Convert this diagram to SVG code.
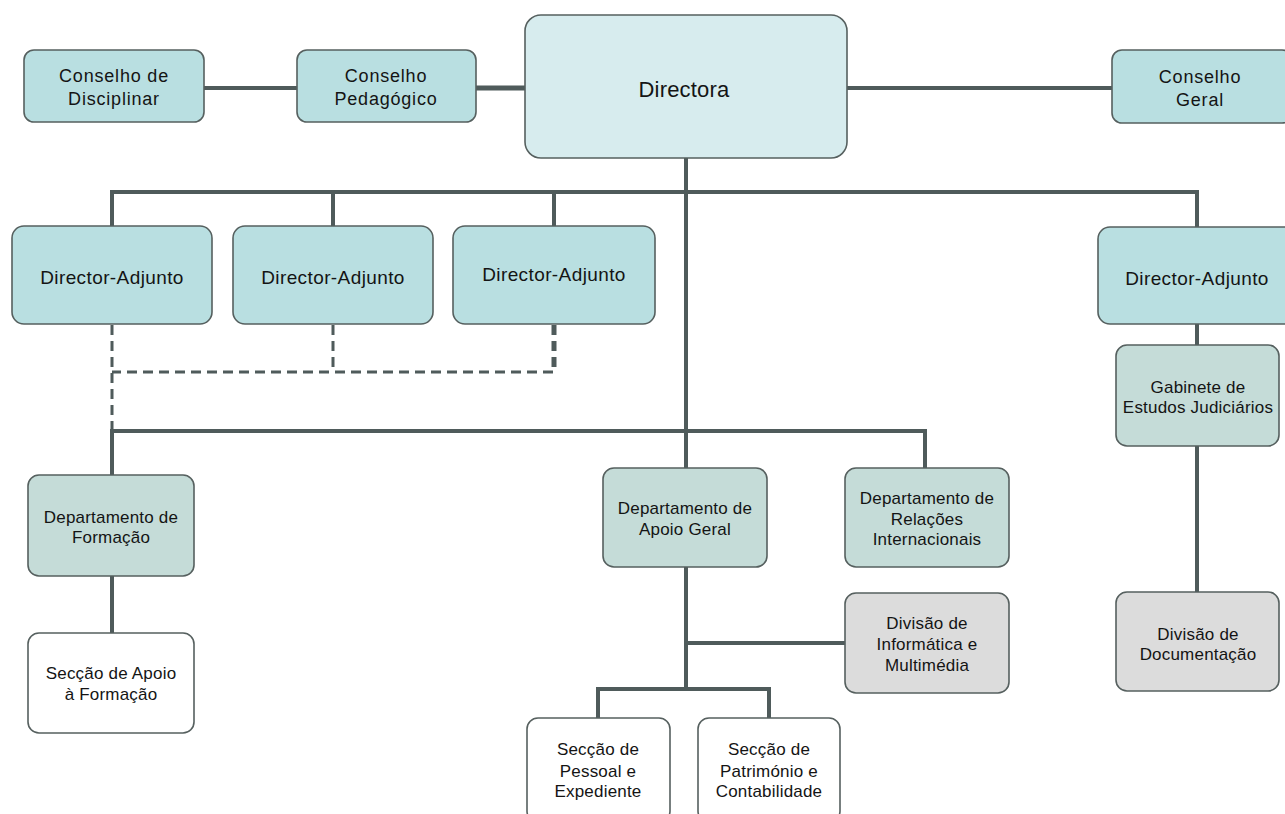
<svg xmlns="http://www.w3.org/2000/svg" width="1285" height="814" viewBox="0 0 1285 814">
<defs>
<style>
.box{stroke:#56605f;stroke-width:1.6}
.c1{fill:#b9dfe1}
.c0{fill:#d7ecee}
.c2{fill:#c5dcd8}
.c3{fill:#dcdcdc}
.c4{fill:#ffffff}
.ln{stroke:#4f5b5b;stroke-width:4;fill:none;stroke-linecap:square}
.ds{stroke:#4f5b5b;stroke-width:3;fill:none;stroke-dasharray:10 6}
text{font-family:"Liberation Sans",Arial,Helvetica,sans-serif;fill:#141414;text-anchor:middle}
.t18{font-size:18px;letter-spacing:0.8px}
.t19{font-size:19px;letter-spacing:0.4px}
.t22{font-size:22px;letter-spacing:0.2px}
.t17{font-size:17px;letter-spacing:0.2px}
</style>
</defs>
<rect width="1285" height="814" fill="#ffffff"/>
<g id="connectors">
<line class="ln" x1="204" y1="88" x2="297" y2="88"/>
<line class="ln" x1="476" y1="88" x2="525" y2="88" style="stroke-width:5"/>
<line class="ln" x1="847" y1="88" x2="1112" y2="88"/>
<line class="ln" x1="686" y1="158" x2="686" y2="468"/>
<line class="ln" x1="112" y1="192" x2="1197" y2="192"/>
<line class="ln" x1="112" y1="192" x2="112" y2="226"/>
<line class="ln" x1="333" y1="192" x2="333" y2="226"/>
<line class="ln" x1="554" y1="192" x2="554" y2="226"/>
<line class="ln" x1="1197" y1="192" x2="1197" y2="227"/>
<path class="ds" d="M112 325 V431"/>
<path class="ds" d="M333 325 V372"/>
<path class="ds" d="M554 325 V372 H112" style="stroke-width:3"/>
<path class="ds" d="M554 325 V372" style="stroke-width:5"/>
<line class="ln" x1="112" y1="431" x2="925" y2="431"/>
<line class="ln" x1="112" y1="431" x2="112" y2="475"/>
<line class="ln" x1="925" y1="431" x2="925" y2="468"/>
<line class="ln" x1="112" y1="576" x2="112" y2="633"/>
<line class="ln" x1="686" y1="567" x2="686" y2="689"/>
<line class="ln" x1="686" y1="643" x2="845" y2="643"/>
<line class="ln" x1="598" y1="689" x2="769" y2="689"/>
<line class="ln" x1="598" y1="689" x2="598" y2="718"/>
<line class="ln" x1="769" y1="689" x2="769" y2="718"/>
<line class="ln" x1="1197" y1="324" x2="1197" y2="345"/>
<line class="ln" x1="1197" y1="446" x2="1197" y2="592"/>
</g>
<g id="conselho-disciplinar">
<rect class="box c1" x="24" y="50" width="180" height="72" rx="10"/>
<text class="t18" x="114" y="82">Conselho de</text>
<text class="t18" x="114" y="105">Disciplinar</text>
</g>
<g id="conselho-pedagogico">
<rect class="box c1" x="297" y="50" width="179" height="72" rx="10"/>
<text class="t18" x="386" y="82">Conselho</text>
<text class="t18" x="386" y="105">Pedagógico</text>
</g>
<g id="directora">
<rect class="box c0" x="525" y="15" width="322" height="143" rx="16"/>
<text class="t22" x="684" y="97">Directora</text>
</g>
<g id="conselho-geral">
<rect class="box c1" x="1112" y="50" width="180" height="73" rx="10"/>
<text class="t18" x="1200" y="83">Conselho</text>
<text class="t18" x="1200" y="106">Geral</text>
</g>
<g id="director-adjunto-1">
<rect class="box c1" x="12" y="226" width="200" height="98" rx="12"/>
<text class="t19" x="112" y="284">Director-Adjunto</text>
</g>
<g id="director-adjunto-2">
<rect class="box c1" x="233" y="226" width="200" height="98" rx="12"/>
<text class="t19" x="333" y="284">Director-Adjunto</text>
</g>
<g id="director-adjunto-3">
<rect class="box c1" x="453" y="226" width="202" height="98" rx="12"/>
<text class="t19" x="554" y="281">Director-Adjunto</text>
</g>
<g id="director-adjunto-4">
<rect class="box c1" x="1098" y="227" width="200" height="97" rx="12"/>
<text class="t19" x="1197" y="285">Director-Adjunto</text>
</g>
<g id="gabinete-estudos">
<rect class="box c2" x="1116" y="345" width="163" height="101" rx="11"/>
<text class="t17" x="1198" y="393">Gabinete de</text>
<text class="t17" x="1198" y="413">Estudos Judiciários</text>
</g>
<g id="divisao-documentacao">
<rect class="box c3" x="1116" y="592" width="163" height="99" rx="11"/>
<text class="t17" x="1198" y="640">Divisão de</text>
<text class="t17" x="1198" y="660">Documentação</text>
</g>
<g id="departamento-formacao">
<rect class="box c2" x="28" y="475" width="166" height="101" rx="11"/>
<text class="t17" x="111" y="523">Departamento de</text>
<text class="t17" x="111" y="543">Formação</text>
</g>
<g id="seccao-apoio-formacao">
<rect class="box c4" x="28" y="633" width="166" height="100" rx="11"/>
<text class="t17" x="111" y="679">Secção de Apoio</text>
<text class="t17" x="111" y="700">à Formação</text>
</g>
<g id="departamento-apoio-geral">
<rect class="box c2" x="603" y="468" width="164" height="99" rx="11"/>
<text class="t17" x="685" y="514">Departamento de</text>
<text class="t17" x="685" y="535">Apoio Geral</text>
</g>
<g id="departamento-relacoes">
<rect class="box c2" x="845" y="468" width="164" height="99" rx="11"/>
<text class="t17" x="927" y="504">Departamento de</text>
<text class="t17" x="927" y="525">Relações</text>
<text class="t17" x="927" y="545">Internacionais</text>
</g>
<g id="divisao-informatica">
<rect class="box c3" x="845" y="593" width="164" height="100" rx="11"/>
<text class="t17" x="927" y="629">Divisão de</text>
<text class="t17" x="927" y="650">Informática e</text>
<text class="t17" x="927" y="671">Multimédia</text>
</g>
<g id="seccao-pessoal">
<rect class="box c4" x="527" y="718" width="143" height="104" rx="11"/>
<text class="t17" x="598" y="755">Secção de</text>
<text class="t17" x="598" y="777">Pessoal e</text>
<text class="t17" x="598" y="797">Expediente</text>
</g>
<g id="seccao-patrimonio">
<rect class="box c4" x="698" y="718" width="142" height="104" rx="11"/>
<text class="t17" x="769" y="755">Secção de</text>
<text class="t17" x="769" y="777">Património e</text>
<text class="t17" x="769" y="797">Contabilidade</text>
</g>
</svg>
